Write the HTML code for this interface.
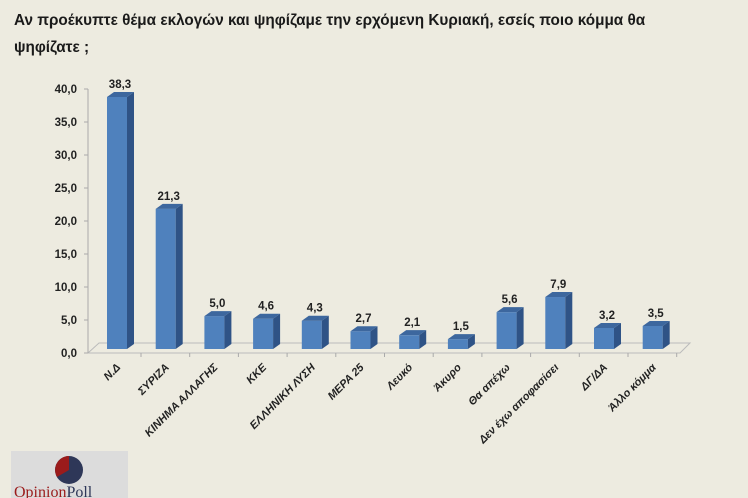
<!DOCTYPE html>
<html><head><meta charset="utf-8"><style>
body{margin:0;width:748px;height:498px;overflow:hidden;background:#edebe0;font-family:"Liberation Sans",sans-serif}
#title{position:absolute;left:14px;top:7px;width:655px;font-size:15.3px;font-weight:bold;color:#1a1a1a;line-height:27px}
svg{position:absolute;left:0;top:0}
</style></head><body>
<div id="title">Αν προέκυπτε θέμα εκλογών και ψηφίζαμε την ερχόμενη Κυριακή, εσείς ποιο κόμμα θα ψηφίζατε ;</div>
<svg id="c" width="748" height="498"></svg>
<script>
const categories=["Ν.Δ","ΣΥΡΙΖΑ","ΚΙΝΗΜΑ ΑΛΛΑΓΗΣ","ΚΚΕ","ΕΛΛΗΝΙΚΗ ΛΥΣΗ","ΜΕΡΑ 25","Λευκό","Άκυρο","Θα απέχω","Δεν έχω αποφασίσει","ΔΓ/ΔΑ","Άλλο κόμμα"];
const values=[38.3,21.3,5.0,4.6,4.3,2.7,2.1,1.5,5.6,7.9,3.2,3.5];
const labels=["38,3","21,3","5,0","4,6","4,3","2,7","2,1","1,5","5,6","7,9","3,2","3,5"];
const ticks=[0,5,10,15,20,25,30,35,40];
const tickLabels=["0,0","5,0","10,0","15,0","20,0","25,0","30,0","35,0","40,0"];
const NS="http://www.w3.org/2000/svg",s=document.getElementById('c');
function el(t,a,p){const e=document.createElementNS(NS,t);for(const k in a)e.setAttribute(k,a[k]);(p||s).appendChild(e);return e;}
const axisY=v=>353-v*6.6, barY=v=>349-v*6.58, x0=107, step=48.7, bw=20, dx=7, dy=5;
const bx=i=>x0+i*step;
const fl=el('polygon',{points:"88,353 680,353 690,343 99,343",fill:"none",stroke:"#bbb","stroke-width":1});

const ya=el('line',{x1:88,y1:axisY(0),x2:88,y2:axisY(40),stroke:"#aaa"});

ticks.forEach((t,i)=>{
 el('line',{x1:84,x2:88,y1:axisY(t),y2:axisY(t),stroke:"#aaa"});
 const tx=el('text',{x:77,y:axisY(t)+4,"text-anchor":"end","font-size":11.5,"font-weight":"bold",fill:"#222"});
 tx.textContent=tickLabels[i];
 
});
categories.forEach((c,i)=>{
 const x=bx(i),y=barY(values[i]),b=349;
 el('line',{x1:x+bw/2+24,x2:x+bw/2+24,y1:353,y2:357,stroke:"#aaa"});
 const g=el('g',{});
 
 el('rect',{x:x,y:y,width:bw,height:b-y,fill:"#4f81bd"},g);
 el('polygon',{points:`${x+bw},${y} ${x+bw+dx},${y-dy} ${x+bw+dx},${b-dy} ${x+bw},${b}`,fill:"#2f5386"},g);
 el('polygon',{points:`${x},${y} ${x+dx},${y-dy} ${x+bw+dx},${y-dy} ${x+bw},${y}`,fill:"#3d679e"},g);
 const v=el('text',{x:x+bw/2+3,y:y-9,"text-anchor":"middle","font-size":11.5,"font-weight":"bold",fill:"#222"});
 v.textContent=labels[i];
 
 const l=el('text',{x:x+bw/2+4,y:368,"text-anchor":"end","font-size":11,"font-weight":"bold","font-style":"italic",fill:"#222",transform:`rotate(-45 ${x+bw/2+4} 368)`});
 l.textContent=c;
 
});
const lg=el('g',{});

el('rect',{x:11,y:451,width:117,height:47,fill:"#dcdcdc"},lg);
el('circle',{cx:69,cy:470,r:14,fill:"#2e3758"},lg);
el('path',{d:"M69,470 L69,456 A14,14 0 0 0 57,477 Z",fill:"#9b1b1b"},lg);
const lt=el('text',{x:14,y:497,"font-size":16,fill:"#9b1b1b","font-family":"Liberation Serif,serif"},lg);
lt.textContent="Opinion";
const lt2=el('tspan',{fill:"#2e3758"},lt);lt2.textContent="Poll";
</script>
</body></html>
